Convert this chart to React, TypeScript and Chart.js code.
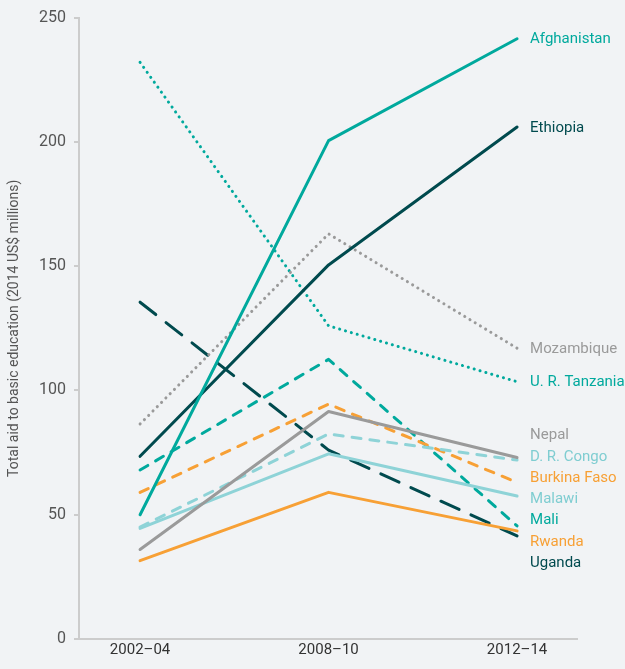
import React, { useEffect, useRef } from "react";
import { Chart, registerables } from "chart.js";

Chart.register(...registerables);

const categories = ["2002–04", "2008–10", "2012–14"];
const yTicks = [0, 50, 100, 150, 200, 250];

const afghanistan = [50, 200.5, 241.5];
const ethiopia = [73.5, 150.5, 206];
const mozambique = [86.5, 163, 117];
const tanzania = [232, 126, 103.5];
const nepal = [36, 91.5, 73];
const drCongo = [45, 82.5, 72];
const burkinaFaso = [59, 94.5, 63];
const malawi = [44.5, 74.5, 57.5];
const mali = [68, 112.5, 45.5];
const rwanda = [31.5, 59, 43.5];
const uganda = [135.5, 76, 41.5];

const TEAL = "#00a99d";
const DARK = "#004a4e";
const GREY = "#9a9a9a";
const LIGHT = "#8ed3d7";
const ORANGE = "#f7a035";

const SOLID: number[] = [];
const DOT = [0.1, 6];
const DASH = [9, 9];
const LONG = [20, 13];

const seriesDefs = [
  { label: "Afghanistan", data: afghanistan, color: TEAL, textColor: TEAL, dash: SOLID, w: 3 },
  { label: "Ethiopia", data: ethiopia, color: DARK, textColor: DARK, dash: SOLID, w: 3 },
  { label: "Mozambique", data: mozambique, color: GREY, textColor: GREY, dash: DOT, w: 3 },
  { label: "U. R. Tanzania", data: tanzania, color: TEAL, textColor: TEAL, dash: DOT, w: 3 },
  { label: "Nepal", data: nepal, color: GREY, textColor: GREY, dash: SOLID, w: 3 },
  { label: "D. R. Congo", data: drCongo, color: LIGHT, textColor: "#7fcdd1", dash: DASH, w: 3 },
  { label: "Burkina Faso", data: burkinaFaso, color: ORANGE, textColor: ORANGE, dash: DASH, w: 3 },
  { label: "Malawi", data: malawi, color: LIGHT, textColor: "#7fcdd1", dash: SOLID, w: 3 },
  { label: "Mali", data: mali, color: TEAL, textColor: TEAL, dash: DASH, w: 3 },
  { label: "Rwanda", data: rwanda, color: ORANGE, textColor: ORANGE, dash: SOLID, w: 3 },
  { label: "Uganda", data: uganda, color: DARK, textColor: DARK, dash: LONG, w: 3 },
];

const endLabels = {
  id: "endLabels",
  afterDatasetsDraw(chart: any) {
    const { ctx, scales } = chart;
    const gap = 21.3;
    const items = chart.data.datasets.map((ds: any, i: number) => {
      const last = ds.data[ds.data.length - 1];
      return {
        text: ds.label,
        color: seriesDefs[i].textColor,
        target: scales.y.getPixelForValue(last.y),
        x: scales.x.getPixelForValue(last.x),
      };
    });
    items.sort((a: any, b: any) => a.target - b.target);
    let groups = items.map((it: any) => ({ members: [it], pos: it.target }));
    let changed = true;
    while (changed) {
      changed = false;
      for (let i = 0; i < groups.length - 1; i++) {
        const a = groups[i];
        const b = groups[i + 1];
        const aEnd = a.pos + (a.members.length - 1) * gap;
        if (b.pos - aEnd < gap) {
          const members = a.members.concat(b.members);
          const mean = members.reduce((s: number, m: any) => s + m.target, 0) / members.length;
          const pos = mean - ((members.length - 1) * gap) / 2;
          groups.splice(i, 2, { members, pos });
          changed = true;
          break;
        }
      }
    }
    ctx.save();
    ctx.font = "15px Roboto";
    ctx.textAlign = "left";
    ctx.textBaseline = "middle";
    groups.forEach((g: any) => {
      g.members.forEach((m: any, k: number) => {
        ctx.fillStyle = m.color;
        ctx.fillText(m.text, m.x + 13, g.pos + k * gap + 1);
      });
    });
    ctx.restore();
  },
};

const bgPlugin = {
  id: "bg",
  beforeDraw(chart: any) {
    const { ctx, width, height } = chart;
    ctx.save();
    ctx.fillStyle = "#f1f3f5";
    ctx.fillRect(0, 0, width, height);
    ctx.restore();
  },
};

export default function App() {
  const ref = useRef<HTMLCanvasElement>(null);
  useEffect(() => {
    document.body.style.margin = "0";
    document.body.style.background = "#f1f3f5";
    const canvas = ref.current!;
    const chart = new Chart(canvas, {
      type: "line",
      data: {
        datasets: seriesDefs.map((s) => ({
          label: s.label,
          data: s.data.map((v, i) => ({ x: i, y: v })),
          borderColor: s.color,
          backgroundColor: s.color,
          borderWidth: s.w,
          borderDash: s.dash,
          borderCapStyle: "round" as const,
          borderJoinStyle: "round" as const,
          pointRadius: 0,
          tension: 0,
          fill: false,
        })),
      },
      options: {
        animation: false,
        responsive: false,
        maintainAspectRatio: false,
        layout: { padding: { top: 16, right: 48, left: 0, bottom: 0 } },
        plugins: { legend: { display: false }, tooltip: { enabled: false } },
        scales: {
          x: {
            type: "linear",
            min: -0.324,
            max: 2.318,
            afterBuildTicks(scale: any) {
              scale.ticks = categories.map((_, i) => ({ value: i }));
            },
            afterFit(scale: any) {
              scale.height = 30;
            },
            ticks: {
              callback: (v: any) => categories[v as number] ?? "",
              color: "#333333",
              font: { family: "Roboto", size: 15 },
              padding: 2,
              maxRotation: 0,
              autoSkip: false,
            },
            grid: { display: false, drawTicks: false },
            border: { display: true, color: "#cccccc", width: 2 },
          },
          y: {
            type: "linear",
            min: 0,
            max: 250,
            afterBuildTicks(scale: any) {
              scale.ticks = yTicks.map((v) => ({ value: v }));
            },
            afterFit(scale: any) {
              scale.width = 79;
            },
            ticks: {
              color: "#555555",
              font: { family: "Roboto", size: 16 },
              padding: 8,
            },
            grid: {
              display: true,
              drawOnChartArea: false,
              drawTicks: true,
              tickLength: 5,
              color: "#cccccc",
              lineWidth: 2,
            },
            border: { display: true, color: "#cccccc", width: 2 },
            title: {
              display: true,
              text: "Total aid to basic education (2014 US$ millions)",
              color: "#555555",
              font: { family: "Roboto", size: 14 },
              padding: { top: 6, bottom: 0 },
            },
          },
        },
      },
      plugins: [bgPlugin, endLabels],
    });
    return () => chart.destroy();
  }, []);
  return <canvas ref={ref} width={625} height={669} style={{ display: "block" }} />;
}
